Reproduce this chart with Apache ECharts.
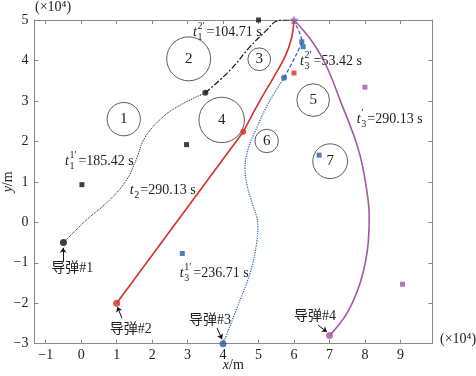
<!DOCTYPE html>
<html>
<head>
<meta charset="utf-8">
<script src="https://cdn.jsdelivr.net/npm/echarts@6/dist/echarts.min.js"></script>
<style>
html,body{margin:0;padding:0;background:#fff;}
#main{width:476px;height:376px;}
</style>
</head>
<body>
<div id="main"></div>
<script>
// 坐标刻度
var xTicks=[-1,0,1,2,3,4,5,6,7,8,9];
var yTicks=[-3,-2,-1,0,1,2,3,4,5];

// 障碍物(圆心、半径、编号)
var obsX=[1.2,3.03,5.02,3.96,6.54,5.23,7.02];
var obsY=[2.55,4.04,4.03,2.53,3.02,2.01,1.51];
var obsR=[0.47,0.62,0.32,0.64,0.46,0.33,0.49];
var obsName=['1','2','3','4','5','6','7'];

// 导弹航迹
var m1PathA=[[-0.5,-0.5],[0.15,0.06],[0.8,0.55],[1.28,1.05],[1.55,1.55],[1.8,2.1],[2.3,2.6],[2.8,2.9],[3.5,3.2]];
var m1PathB=[[3.5,3.2],[4.2,3.76],[4.76,4.34],[5.23,4.75],[5.5,4.97],[5.75,5],[6,5]];
var m2PathA=[[1,-2],[4.57,2.24]];
var m2PathB=[[4.57,2.24],[4.8,2.62],[5.1,3.1],[5.45,3.62],[5.75,4.1],[5.93,4.55],[6,5]];
var m3PathA=[[4,-3],[4.48,-1.92],[4.78,-1.2],[4.95,-0.5],[4.98,-0.05],[4.85,0.4],[4.68,0.9],[4.62,1.35],[4.72,1.85],[4.93,2.3],[5.18,2.78],[5.45,3.2],[5.72,3.57]];
var m3PathB=[[5.72,3.57],[5.95,3.95],[6.15,4.3],[6.22,4.45],[6.15,4.7],[6.05,4.88],[6,5]];
var m4Path=[[7,-2.8],[7.49,-2.25],[7.86,-1.51],[8.07,-0.68],[8.12,0.14],[8.05,0.8],[7.82,1.79],[7.3,3.02],[6.92,3.85],[6.54,4.43],[6.17,4.84],[6,5]];

// 方块标记
var blackSq=[[5,5],[0.02,0.93],[2.97,1.92]];
var redSq=[[6.0,3.69]];
var blueSq=[[2.85,-0.77],[6.71,1.66],[6.22,4.46],[6.26,4.34]];
var purpleSq=[[8,3.34],[9.06,-1.53]];

// 起点与切换点
var startPts=[[-0.5,-0.5],[1,-2],[4,-3],[7,-2.8]];
var midPts=[[3.5,3.2],[4.57,2.24],[5.72,3.57]];
var targetPt=[[6,5]];

// 时间标注
var tLabX=[3.15,6.17,7.77,-0.46,1.37,2.78];
var tLabY=[4.70,3.97,2.55,1.50,0.80,-1.25];
var tSub=['1','3','3','1','2','3'];
var tSup=['2\u2032','2\u2032','\u2032','1\u2032','','1\u2032'];
var tVal=['=104.71 s','=53.42 s','=290.13 s','=185.42 s','=290.13 s','=236.71 s'];

// 导弹名称与箭头
var mslName=['导弹#1','导弹#2','导弹#3','导弹#4'];
var mslLabX=[-0.25,1.4,3.63,6.59];
var mslLabY=[-1.13,-2.64,-2.42,-2.32];
var arrowFrom=[[-0.51,-0.98],[1.15,-2.37],[3.83,-2.61],[6.68,-2.54]];
var arrowTo=[[-0.51,-0.63],[1.02,-2.09],[3.97,-2.89],[6.93,-2.71]];

var colBlack='#111';
var colRed='#d3302c';
var colBlue='#2b5ea6';
var colPurple='#a257a8';
var serif='"Liberation Serif","Times New Roman","Noto Sans CJK SC",serif';

var showEchart={
    echartId:null,
    getEchartById:function (id) {
        return echarts.init(document.getElementById(id));
    },
    setOptionEcharts:function (id,options) {
        this.echartId=this.getEchartById(id);
        if(this.echartId)
            this.echartId.setOption(options);
    }
};

function minusFmt(v){
    return v<0?'\u2212'+(-v):String(v);
}

function pathSeries(data,color,width,type,smooth){
    return {type:'line',data:data,symbol:'none',smooth:smooth,z:3,
        lineStyle:{color:color,width:width,type:type},silent:true};
}

function sqSeries(data,color){
    return {type:'scatter',data:data,symbol:'rect',symbolSize:5,clip:false,z:5,
        itemStyle:{color:color}};
}

// 障碍物
function renderObstacle(params,api){
    var c=api.coord([api.value(0),api.value(1)]);
    var r=api.size([api.value(2),0])[0];
    var i=api.value(3);
    return {type:'group',children:[
        {type:'circle',shape:{cx:c[0],cy:c[1],r:r},style:{fill:'none',stroke:'#333',lineWidth:0.8}},
        {type:'text',x:c[0],y:c[1],style:{text:obsName[i],fontFamily:serif,fontSize:15,fill:'#222',align:'center',verticalAlign:'middle'}}
    ]};
}

// 时间标注 t 下标 上标
function renderTLabel(params,api){
    var c=api.coord([api.value(0),api.value(1)]);
    var i=api.value(2);
    var x0=c[0],y0=c[1];
    var supW=tSup[i].length>1?9:(tSup[i].length?4:0);
    var w=Math.max(supW,6);
    return {type:'group',children:[
        {type:'text',x:x0,y:y0,style:{text:'t',fontFamily:serif,fontStyle:'italic',fontSize:14,fill:'#222',align:'left',verticalAlign:'middle'}},
        {type:'text',x:x0+4.5,y:y0+5,style:{text:tSub[i],fontFamily:serif,fontSize:10,fill:'#222',align:'left',verticalAlign:'middle'}},
        {type:'text',x:x0+4.5,y:y0-6,style:{text:tSup[i],fontFamily:serif,fontSize:10,fill:'#222',align:'left',verticalAlign:'middle'}},
        {type:'text',x:x0+4.5+w,y:y0,style:{text:tVal[i],fontFamily:serif,fontSize:14,fill:'#222',align:'left',verticalAlign:'middle'}}
    ]};
}

function renderMslLabel(params,api){
    var c=api.coord([api.value(0),api.value(1)]);
    return {type:'text',x:c[0],y:c[1],style:{text:mslName[api.value(2)],fontFamily:serif,fontSize:14,fill:'#222',align:'center',verticalAlign:'middle'}};
}

var axisGray='#888';
function xAxisCfg(pos,showLabel){
    return {type:'value',min:-1.32,max:9.9,position:pos,
        axisLine:{onZero:false,lineStyle:{color:axisGray,width:1}},
        axisTick:{inside:true,length:4,customValues:xTicks,lineStyle:{color:axisGray}},
        axisLabel:{show:showLabel,customValues:xTicks,color:'#222',fontFamily:serif,fontSize:14,margin:5,formatter:minusFmt},
        splitLine:{show:false},
        name:showLabel?'{i|x}/m':'',nameLocation:'middle',nameGap:15,nameMoveOverlap:false,
        nameTextStyle:{color:'#222',fontFamily:serif,fontSize:14,rich:{i:{fontStyle:'italic',fontFamily:serif,fontSize:14,color:'#222'}}}};
}
function yAxisCfg(pos,showLabel){
    return {type:'value',min:-3,max:5,interval:1,position:pos,
        axisLine:{onZero:false,lineStyle:{color:axisGray,width:1}},
        axisTick:{inside:true,length:4,lineStyle:{color:axisGray}},
        axisLabel:{show:showLabel,color:'#222',fontFamily:serif,fontSize:14,margin:6,formatter:minusFmt},
        splitLine:{show:false},
        name:showLabel?'{i|y}/m':'',nameLocation:'middle',nameGap:19,nameMoveOverlap:false,
        nameTextStyle:{color:'#222',fontFamily:serif,fontSize:14,rich:{i:{fontStyle:'italic',fontFamily:serif,fontSize:14,color:'#222'}}}};
}

var options={
    animation:false,
    backgroundColor:'#fff',
    grid:{left:34.4,right:43.7,top:20,bottom:32.3,containLabel:false,outerBoundsMode:'none'},
    xAxis:[xAxisCfg('bottom',true),xAxisCfg('top',false)],
    yAxis:[yAxisCfg('left',true),yAxisCfg('right',false)],
    graphic:[
        {type:'text',left:35,top:0,style:{text:'(\u00d710\u2074)',fontFamily:serif,fontSize:14,fill:'#222'}},
        {type:'text',left:440,top:332,style:{text:'(\u00d710\u2074)',fontFamily:serif,fontSize:14,fill:'#222'}}
    ],
    series:[
        {type:'custom',renderItem:renderObstacle,clip:false,z:2,
            data:obsX.map(function(x,i){return [x,obsY[i],obsR[i],i];}),encode:{x:0,y:1}},
        pathSeries(m1PathA,colBlack,1,'dotted',0.4),
        pathSeries(m1PathB,colBlack,1.2,[6,2,2,2],0.4),
        pathSeries(m2PathA,colRed,1.6,'solid',false),
        pathSeries(m2PathB,colRed,1.6,'solid',0.4),
        pathSeries(m3PathA,colBlue,1.2,'dotted',0.4),
        pathSeries(m3PathB,colBlue,1.2,[4,2],0.4),
        pathSeries(m4Path,colPurple,1.6,'solid',0.4),
        sqSeries(blackSq,colBlack),
        sqSeries(redSq,colRed),
        sqSeries(blueSq,colBlue),
        sqSeries(purpleSq,colPurple),
        {type:'scatter',symbol:'circle',symbolSize:7,clip:false,z:6,
            data:startPts.map(function(p,i){return {value:p,itemStyle:{color:[colBlack,colRed,colBlue,colPurple][i]}};})},
        {type:'scatter',symbol:'circle',symbolSize:6,clip:false,z:6,
            data:midPts.map(function(p,i){return {value:p,itemStyle:{color:[colBlack,colRed,colBlue][i]}};})},
        {type:'scatter',symbol:'path://M0,-10L2.9,-4L9.5,-3.1L4.8,1.5L5.9,8.1L0,5L-5.9,8.1L-4.8,1.5L-9.5,-3.1L-2.9,-4Z',
            symbolSize:9,clip:false,z:7,data:targetPt,itemStyle:{color:colPurple}},
        {type:'lines',coordinateSystem:'cartesian2d',symbol:['none','arrow'],symbolSize:5,z:6,
            lineStyle:{color:'#111',width:1,opacity:1},
            data:arrowFrom.map(function(p,i){return {coords:[p,arrowTo[i]]};})},
        {type:'custom',renderItem:renderTLabel,clip:false,z:8,
            data:tLabX.map(function(x,i){return [x,tLabY[i],i];}),encode:{x:0,y:1}},
        {type:'custom',renderItem:renderMslLabel,clip:false,z:8,
            data:mslLabX.map(function(x,i){return [x,mslLabY[i],i];}),encode:{x:0,y:1}}
    ]
};

showEchart.setOptionEcharts('main',options);
</script>
</body>
</html>
